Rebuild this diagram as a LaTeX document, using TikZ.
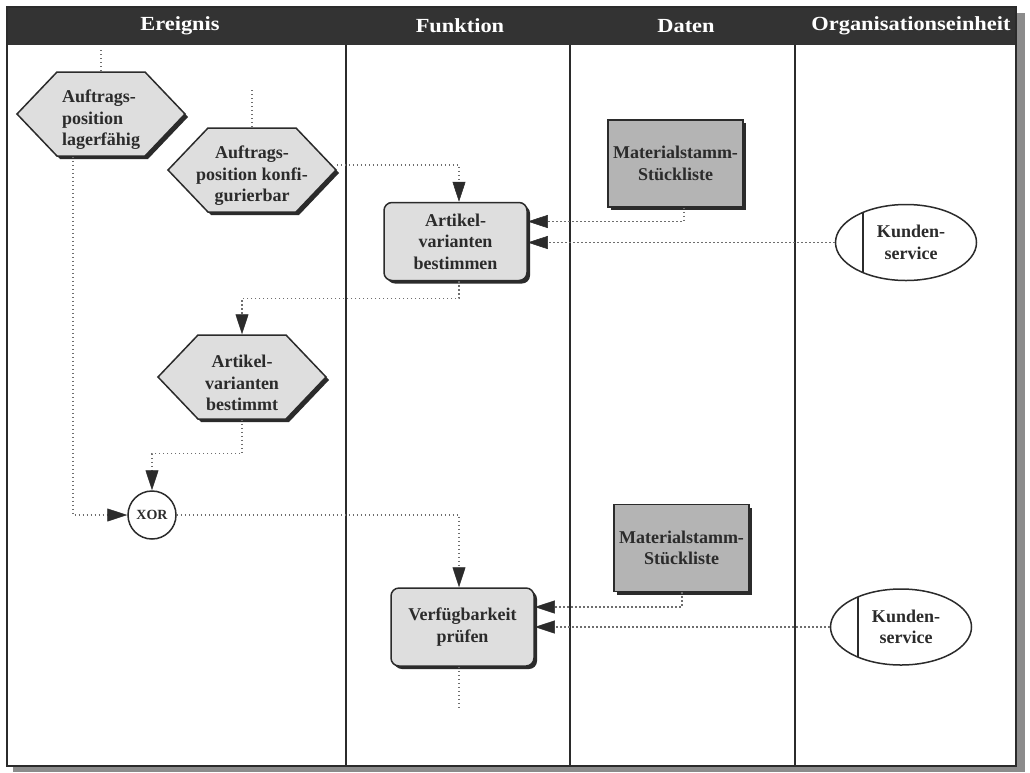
\documentclass[tikz,border=0pt]{standalone}
\usepackage{fontspec}
\setmainfont{Liberation Serif}
\newfontfamily\hdrfont[FakeStretch=1.12]{Liberation Serif}
\usetikzlibrary{arrows.meta,shapes.geometric,shadows,calc}

\definecolor{ink}{HTML}{2B2B2B}
\definecolor{hdrband}{HTML}{333333}
\definecolor{evfill}{HTML}{DEDEDE}
\definecolor{datafill}{HTML}{B4B4B4}
\definecolor{dotc}{HTML}{6E6E6E}
\definecolor{frameshadow}{HTML}{8C8C8C}

\tikzset{
  nodefont/.style={font=\bfseries\fontsize{18}{21.5}\selectfont, text=ink},
  hdr/.style={font=\hdrfont\bfseries\fontsize{20}{24}\selectfont, text=white, inner sep=0pt},
  lane/.style={draw=ink, line width=1.8pt},
  flow/.style={draw=dotc, line width=1.3pt, dash pattern=on 1.3pt off 2.7pt},
  tip/.style={-{Triangle[length=20pt,width=13pt,line width=0.5pt,color=ink,fill=ink]}},
  evanchor/.style={minimum width=168pt, minimum height=84pt, inner sep=0pt, outer sep=0.75pt},
  evtext/.style={nodefont, inner sep=0pt},
  evshape/.style={fill=evfill, draw=ink, line width=1.5pt, line join=miter},
  evshadow/.style={fill=ink},
  fnbox/.style={rectangle, rounded corners=8pt, draw=ink, line width=1.5pt, fill=evfill,
    nodefont, align=center, minimum width=143pt, minimum height=78pt, inner sep=2pt,
    drop shadow={shadow xshift=3pt, shadow yshift=-3pt, fill=ink, opacity=1}},
  databox/.style={rectangle, draw=ink, line width=1.5pt, fill=datafill,
    nodefont, align=center, minimum width=135pt, minimum height=87pt, inner sep=1pt,
    drop shadow={shadow xshift=3pt, shadow yshift=-3pt, fill=ink, opacity=1}},
  orgunit/.style={ellipse, draw=ink, line width=1.5pt, fill=white,
    nodefont, align=center, minimum width=141pt, minimum height=76pt, inner sep=0pt},
  xorgate/.style={circle, draw=ink, line width=1.5pt, fill=white,
    font=\bfseries\fontsize{14}{16}\selectfont, text=ink, minimum size=48pt, inner sep=0pt},
}

% event hexagon: name, centre x, centre y, text alignment, text
\newcommand\evtnode[5]{%
  \fill[evshadow] ({#2-84+3},{#3+3}) -- ({#2-44+3},{#3-42+3}) -- ({#2+44+3},{#3-42+3})
    -- ({#2+84+3},{#3+3}) -- ({#2+44+3},{#3+42+3}) -- ({#2-44+3},{#3+42+3}) -- cycle;
  \filldraw[evshape] ({#2-84},{#3}) -- ({#2-44},{#3-42}) -- ({#2+44},{#3-42})
    -- ({#2+84},{#3}) -- ({#2+44},{#3+42}) -- ({#2-44},{#3+42}) -- cycle;
  \node[evanchor] (#1) at (#2,#3) {};
  \node[evtext, align=#4] (#1-text) at (#2,{#3+6}) {#5};
}

% divider inside an organisational-unit ellipse
\newcommand\orgbar[1]{%
  \draw[ink, line width=1.5pt] ([xshift=-43pt,yshift=29.8pt]#1.center)
    -- ([xshift=-43pt,yshift=-29.8pt]#1.center);
}

\begin{document}
\begin{tikzpicture}[x=1pt, y=-1pt]
  \useasboundingbox (0,0) rectangle (1030,772);

  % sheet with shadow
  \fill[frameshadow] (13,13) rectangle (1025,772);
  \fill[white] (7,7) rectangle (1016,766);
  \fill[hdrband] (7,7) rectangle (1016,45);

  % swimlane dividers
  \draw[lane] (346,45) -- (346,766);
  \draw[lane] (570,45) -- (570,766);
  \draw[lane] (795,45) -- (795,766);
  \draw[ink, line width=2pt] (7,7) rectangle (1016,766);

  % lane headings
  \node[hdr] (hE) at (180,26) {Ereignis};
  \node[hdr] (hF) at (460,26) {Funktion};
  \node[hdr] (hD) at (686,26) {Daten};
  \node[hdr] (hO) at (911,26) {Organisationseinheit};

  % events
  \evtnode{h1}{101}{114}{left}{Auftrags-\\position\\lagerfähig}
  \evtnode{h2}{252}{170}{center}{Auftrags-\\position konfi-\\gurierbar}
  \evtnode{h3}{242}{377}{center}{Artikel-\\varianten\\bestimmt}

  % functions
  \node[fnbox] (fa) at (455.5,241.5) {Artikel-\\varianten\\bestimmen};
  \node[fnbox] (fv) at (462.5,627) {Verfügbarkeit\\prüfen};

  % data objects
  \node[databox] (d1) at (675.5,163.5) {Materialstamm-\\Stückliste};
  \node[databox] (d2) at (681.5,548) {Materialstamm-\\Stückliste};

  % organisational units
  \node[orgunit] (k1) at (906,242.5) {\hspace*{10pt}Kunden-\\\hspace*{10pt}service};
  \node[orgunit] (k2) at (901,627) {\hspace*{10pt}Kunden-\\\hspace*{10pt}service};
  \orgbar{k1}
  \orgbar{k2}

  % connector
  \node[xorgate] (xor) at (152,515) {XOR};

  % free ends of the open connectors
  \coordinate (in1) at (101,50);
  \coordinate (in2) at (252,90);
  \coordinate (out1) at (459,710);

  % control flow
  \draw[flow] (in1) -- (h1.north);
  \draw[flow] (in2) -- (h2.north);
  \draw[flow, tip] ([yshift=5pt]h2.east) -| ([xshift=3.5pt]fa.north);
  \draw[flow, tip] ([xshift=3.5pt]fa.south) -- ++(0,17) -| (h3.north);
  \draw[flow, tip] (h3.south) -- ++(0,34) -| (xor.north);
  \draw[flow, tip] ([xshift=-28pt]h1.south) |- (xor.west);
  \draw[flow, tip] (xor.east) -| ([xshift=-3.5pt]fv.north);
  \draw[flow] ([xshift=-3.5pt]fv.south) -- (out1);

  % data and organisation links
  \draw[flow, tip] ([xshift=8.5pt]d1.south) |- ([yshift=20pt]fa.east);
  \draw[flow, tip] (k1.west) -- (k1.west -| fa.east);
  \draw[flow, tip] ([xshift=0.5pt]d2.south) |- ([yshift=20pt]fv.east);
  \draw[flow, tip] (k2.west) -- (k2.west -| fv.east);
\end{tikzpicture}
\end{document}
